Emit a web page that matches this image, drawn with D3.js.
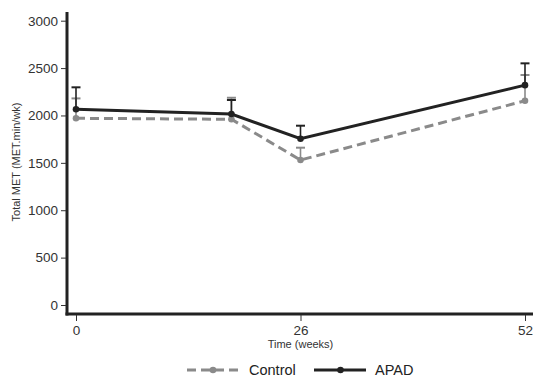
<!DOCTYPE html>
<html><head><meta charset="utf-8">
<script src="https://cdn.jsdelivr.net/npm/d3@7"></script>
<style>body{margin:0;background:#fff}svg{display:block}text{font-family:"Liberation Sans",Arial,sans-serif}</style>
</head><body><svg id="c" width="533" height="378"></svg>
<script>
const weeks = [0, 18, 26, 52];
const controlMean = [1970, 1960, 1530, 2155];
const controlUpper = [2180, 2187, 1660, 2427];
const apadMean = [2065, 2015, 1755, 2320];
const apadUpper = [2297, 2163, 1892, 2550];
const yTicks = [0, 500, 1000, 1500, 2000, 2500, 3000];
const xTicks = [0, 26, 52];

const svg = d3.select("#c");
const x = d3.scaleLinear().domain([0, 52]).range([76, 525]);
const y = d3.scaleLinear().domain([0, 3000]).range([305, 20.7]);

// axes lines
svg.append("line").attr("x1", 67).attr("x2", 67).attr("y1", 12).attr("y2", 315.5)
  .attr("stroke", "#222").attr("stroke-width", 3);
svg.append("line").attr("x1", 65.5).attr("x2", 533).attr("y1", 314).attr("y2", 314)
  .attr("stroke", "#222").attr("stroke-width", 3);

const yAxis = d3.axisLeft(y).tickValues(yTicks).tickSize(5).tickPadding(3).tickFormat(d3.format("d"));
const gy = svg.append("g").attr("transform", "translate(66,0)").call(yAxis);
gy.select(".domain").remove();
gy.selectAll(".tick line").attr("stroke", "#333");
gy.selectAll(".tick text").attr("font-size", 13.5).attr("fill", "#333")
  .attr("font-family", "Liberation Sans, Arial, sans-serif");

const xAxis = d3.axisBottom(x).tickValues(xTicks).tickSize(6).tickPadding(4);
const gx = svg.append("g").attr("transform", "translate(0,315)").call(xAxis);
gx.select(".domain").remove();
gx.selectAll(".tick line").attr("stroke", "#333");
gx.selectAll(".tick text").attr("font-size", 13.5).attr("fill", "#333")
  .attr("font-family", "Liberation Sans, Arial, sans-serif");

svg.append("text").attr("x", x(26)).attr("y", 348).attr("text-anchor", "middle")
  .attr("font-size", 11).attr("fill", "#333").text("Time (weeks)");
svg.append("text").attr("transform", "translate(20,162) rotate(-90)").attr("text-anchor", "middle")
  .attr("font-size", 11).attr("fill", "#333").text("Total MET (MET.min/wk)");

function series(mean, upper, color, dash, width) {
  const g = svg.append("g");
  weeks.forEach((w, i) => {
    g.append("line").attr("x1", x(w)).attr("x2", x(w)).attr("y1", y(mean[i])).attr("y2", y(upper[i]))
      .attr("stroke", color).attr("stroke-width", 1.6);
    g.append("line").attr("x1", x(w) - 4.5).attr("x2", x(w) + 4.5).attr("y1", y(upper[i])).attr("y2", y(upper[i]))
      .attr("stroke", color).attr("stroke-width", 2);
  });
  const line = d3.line().x((d, i) => x(weeks[i])).y(d => y(d));
  g.append("path").datum(mean).attr("d", line).attr("fill", "none")
    .attr("stroke", color).attr("stroke-width", width).attr("stroke-dasharray", dash);
  g.selectAll("circle").data(mean).join("circle")
    .attr("cx", (d, i) => x(weeks[i])).attr("cy", d => y(d)).attr("r", 3.3).attr("fill", color);
}
series(controlMean, controlUpper, "#8a8a8a", "9,5", 3);
series(apadMean, apadUpper, "#222", null, 3);

// legend
const lg = svg.append("g");
lg.append("line").attr("x1", 187).attr("x2", 240).attr("y1", 370).attr("y2", 370)
  .attr("stroke", "#8a8a8a").attr("stroke-width", 3).attr("stroke-dasharray", "9,5");
lg.append("circle").attr("cx", 213).attr("cy", 370).attr("r", 3.3).attr("fill", "#8a8a8a");
lg.append("text").attr("x", 249).attr("y", 375).attr("font-size", 14.5).attr("fill", "#222").text("Control");
lg.append("line").attr("x1", 314).attr("x2", 366).attr("y1", 370).attr("y2", 370)
  .attr("stroke", "#222").attr("stroke-width", 3);
lg.append("circle").attr("cx", 340.5).attr("cy", 370).attr("r", 3.3).attr("fill", "#222");
lg.append("text").attr("x", 375).attr("y", 375).attr("font-size", 14.5).attr("fill", "#222").text("APAD");
</script></body></html>
